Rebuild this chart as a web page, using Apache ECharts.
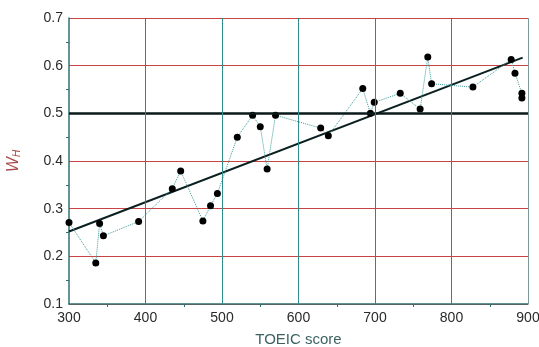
<!DOCTYPE html>
<html><head><meta charset="utf-8">
<script src="https://cdn.jsdelivr.net/npm/echarts@6/dist/echarts.min.js"></script>
<style>html,body{margin:0;padding:0;background:#fff}#c{width:539px;height:347px}</style>
</head><body><div id="c"></div>
<script>
var toeic = [300,335,340,345,391,435,446,475,485,494,520,540,550,559,570,629,639,684,694,699,733,759,769,774,828,878,883,892,892];
var wh = [0.271,0.186,0.269,0.243,0.273,0.342,0.379,0.274,0.306,0.332,0.450,0.496,0.472,0.383,0.496,0.469,0.453,0.552,0.500,0.523,0.542,0.509,0.618,0.562,0.555,0.613,0.584,0.542,0.532];
var fitX = [300,893];
var fitY = [0.252,0.617];
var refLevel = 0.5;
var tealLines = [500,600];
var redLines = [400,700,800];
var xTicks = [300,400,500,600,700,800,900];
var yTicks = [0.1,0.2,0.3,0.4,0.5,0.6,0.7];

var chart = echarts.init(document.getElementById('c'));
var pts = toeic.map(function(x,i){return [x, wh[i]];});
var fit = fitX.map(function(x,i){return [x, fitY[i]];});
var font = 'Liberation Sans, Arial, sans-serif';
chart.setOption({
  animation:false,
  grid:{left:69,right:11,top:18,bottom:43,outerBoundsMode:'none',containLabel:false},
  xAxis:{type:'value',min:xTicks[0],max:xTicks[xTicks.length-1],interval:100,
    name:'TOEIC score',nameLocation:'middle',nameGap:28,
    nameTextStyle:{color:'#3d6262',fontSize:15,fontFamily:font},
    axisLine:{lineStyle:{color:'#2f6f6f',width:1.5}},
    axisTick:{show:false},
    minorTick:{show:true,splitNumber:2,length:3,inside:true,lineStyle:{color:'#2f6f6f'}},
    axisLabel:{color:'#2a2a2a',fontSize:14,fontFamily:font,margin:7},
    splitLine:{show:false}
  },
  yAxis:{type:'value',min:yTicks[0],max:yTicks[yTicks.length-1],interval:0.1,
    name:'W{s|H}',nameLocation:'middle',nameGap:47,nameRotate:90,
    nameTextStyle:{color:'#a84848',fontSize:16,fontStyle:'italic',fontFamily:font,
      rich:{s:{fontSize:10,fontStyle:'italic',color:'#a84848',verticalAlign:'bottom',padding:[6,0,0,0]}}},
    axisLine:{show:true,lineStyle:{color:'#2f6f6f',width:1.5}},
    axisTick:{show:false},
    minorTick:{show:true,splitNumber:2,length:3,inside:true,lineStyle:{color:'#2f6f6f'}},
    axisLabel:{color:'#2a2a2a',fontSize:14,fontFamily:font,margin:6,formatter:function(v){return v.toFixed(1);}},
    splitLine:{show:true,lineStyle:{width:1,color:'#c84444'}}
  },
  series:[
    {type:'line',data:pts,symbol:'circle',symbolSize:7,
      itemStyle:{color:'#000'},lineStyle:{color:'#3a9a9a',width:1,type:'dotted'},z:3},
    {type:'line',data:fit,symbol:'none',lineStyle:{color:'#0a1f1f',width:2},z:2,
      markLine:{silent:true,symbol:'none',label:{show:false},
        lineStyle:{color:'#0a1a1a',width:2.5,type:'solid'},data:[{yAxis:refLevel}]}},
    {type:'line',data:[],z:1,
      markLine:{silent:true,symbol:'none',label:{show:false},
        lineStyle:{color:'#2e8e8e',width:1,type:'solid'},
        data:tealLines.map(function(v){return {xAxis:v};})}},
    {type:'line',data:[],z:1,
      markLine:{silent:true,symbol:'none',label:{show:false},
        lineStyle:{color:'#c84444',width:1,type:'solid'},
        data:redLines.map(function(v){return {xAxis:v};})}},
    {type:'line',data:[],z:1,
      markLine:{silent:true,symbol:'none',label:{show:false},
        lineStyle:{color:'#7a9a9a',width:1,type:'solid'},
        data:[{xAxis:xTicks[xTicks.length-1]}]}}
  ]
});
</script></body></html>
